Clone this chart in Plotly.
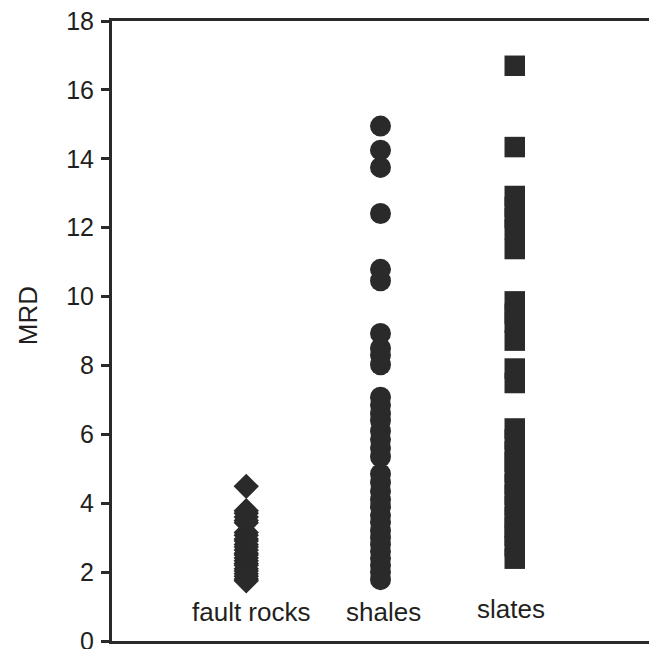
import plotly.graph_objects as go

categories = ["fault rocks", "shales", "slates"]
category_pos = [1, 2, 3]

fault_rocks = [4.49, 3.78, 3.71, 3.6, 3.5, 3.43, 3.15, 3.07, 2.96, 2.9, 2.8, 2.73,
               2.64, 2.55, 2.5, 2.41, 2.33, 2.25, 2.2, 2.1, 2.03, 1.95, 1.88, 1.8, 1.75]
shales = [14.95, 14.25, 13.75, 12.41, 10.79, 10.46, 8.93, 8.5, 8.3, 8.02, 7.08, 6.85,
          6.6, 6.4, 6.1, 5.85, 5.6, 5.35, 4.85, 4.6, 4.35, 4.1, 3.9, 3.65, 3.45, 3.2,
          3.0, 2.8, 2.6, 2.4, 2.2, 2.0, 1.78]
slates = [16.7, 14.34, 12.92, 12.6, 12.28, 11.95, 11.38, 9.86, 9.5, 9.25, 8.72, 7.91,
          7.49, 6.17, 5.85, 5.5, 5.2, 4.9, 4.55, 4.25, 3.92, 3.6, 3.3, 3.05, 2.75, 2.39]

y_ticks = [0, 2, 4, 6, 8, 10, 12, 14, 16, 18]

DARK = "#2b2a2b"
TEXT = "#231f20"
FONT = "Liberation Sans, Arial, sans-serif"

series = [fault_rocks, shales, slates]
symbols = ["diamond", "circle", "square"]
sizes = [19.5, 21, 20.5]

fig = go.Figure()
for pos, vals, sym, sz in zip(category_pos, series, symbols, sizes):
    fig.add_trace(go.Scatter(
        x=[pos] * len(vals), y=vals, mode="markers",
        marker=dict(symbol=sym, size=sz, color=DARK, line=dict(width=0)),
        showlegend=False, hoverinfo="skip", cliponaxis=False,
    ))

label_x = [1.04, 2.02, 2.97]
label_y = [0.84, 0.84, 0.94]
for cat, lx, ly in zip(categories, label_x, label_y):
    fig.add_annotation(x=lx, y=ly, xref="x", yref="y", text=cat, showarrow=False,
                       font=dict(family=FONT, size=26, color=TEXT),
                       xanchor="center", yanchor="middle")

fig.add_annotation(x=-0.157, y=0.525, xref="paper", yref="paper", text="MRD",
                   textangle=-90, showarrow=False,
                   font=dict(family=FONT, size=26, color=TEXT),
                   xanchor="center", yanchor="middle")

fig.update_layout(
    width=649, height=649,
    margin=dict(l=112, r=0, t=21, b=8, autoexpand=False),
    paper_bgcolor="white", plot_bgcolor="white",
    xaxis=dict(range=[0, 4], showline=True, linecolor=DARK, linewidth=3,
               mirror=True, showgrid=False, zeroline=False, showticklabels=False,
               ticks="", automargin=False),
    yaxis=dict(range=[0, 18], tickvals=y_ticks, showline=True, linecolor=DARK,
               linewidth=3, showgrid=False, zeroline=False, ticks="outside",
               ticklen=8, tickwidth=2.5, tickcolor=DARK, automargin=False,
               ticklabeloverflow="allow", ticklabelstandoff=2,
               tickfont=dict(family=FONT, size=25, color=TEXT)),
)

fig.write_html("out.html")
